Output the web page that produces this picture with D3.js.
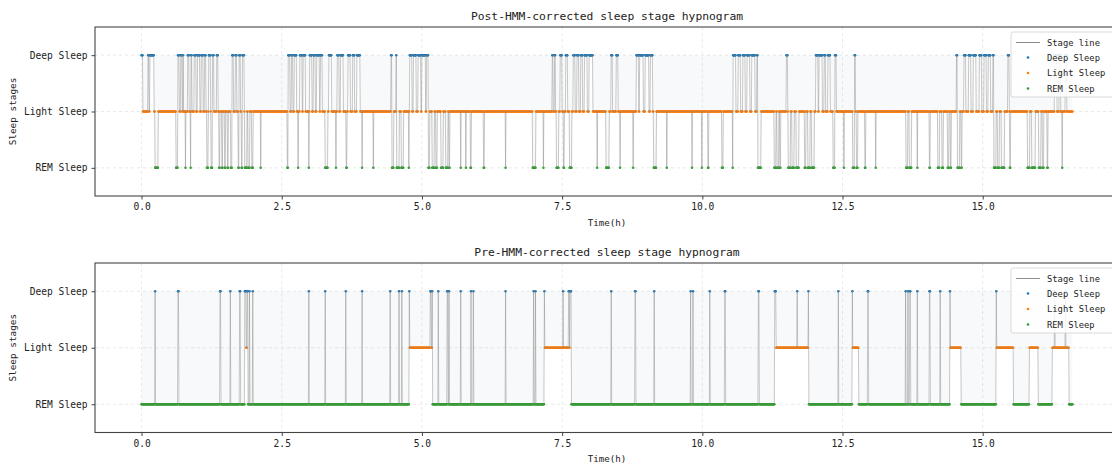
<!DOCTYPE html>
<html>
<head>
<meta charset="utf-8">
<script src="https://cdn.jsdelivr.net/npm/d3@7"></script>
<style>
  body { margin: 0; background: #fff; }
  svg { display: block; }
  text { font-family: "DejaVu Sans Mono", "Liberation Mono", monospace; fill: #222; }
</style>
</head>
<body>
<svg id="chart" width="1112" height="466"></svg>
<script>
// Stage codes: 0 = REM, 1 = Light, 2 = Deep
const stageNames = ["REM Sleep", "Light Sleep", "Deep Sleep"];
const xTicks = [0, 2.5, 5, 7.5, 10, 12.5, 15];
const epochHours = 0.5 / 60;   // 30-second scoring epochs
const recordEnd = 16.6;        // hours

// Post-HMM hypnogram as runs: start time (h) and stage of each run
const postRunStart = [
  0.00, 0.02, 0.11, 0.13, 0.15, 0.22, 0.24, 0.30, 0.61, 0.65, 0.67, 0.70, 0.72, 0.74, 0.75, 0.78, 0.79,
  0.82, 0.85, 0.87, 0.88, 0.90, 0.94, 0.97, 1.00, 1.04, 1.06, 1.10, 1.12, 1.15, 1.16, 1.19, 1.20, 1.23,
  1.24, 1.26, 1.29, 1.34, 1.36, 1.38, 1.40, 1.43, 1.45, 1.48, 1.50, 1.53, 1.55, 1.59, 1.61, 1.64, 1.67,
  1.70, 1.72, 1.74, 1.76, 1.78, 1.80, 1.83, 1.84, 1.88, 1.90, 1.93, 1.96, 1.99, 2.12, 2.13, 2.60, 2.61,
  2.65, 2.67, 2.70, 2.72, 2.76, 2.79, 2.80, 2.82, 2.86, 2.88, 2.92, 2.98, 2.99, 3.00, 3.04, 3.06, 3.10,
  3.12, 3.17, 3.19, 3.22, 3.27, 3.32, 3.34, 3.39, 3.46, 3.47, 3.49, 3.52, 3.55, 3.60, 3.65, 3.66, 3.68,
  3.72, 3.76, 3.80, 3.84, 3.90, 3.93, 3.94, 4.13, 4.14, 4.45, 4.46, 4.50, 4.54, 4.55, 4.60, 4.63, 4.67,
  4.76, 4.77, 4.78, 4.82, 4.85, 4.90, 4.93, 4.98, 5.00, 5.06, 5.08, 5.11, 5.14, 5.18, 5.22, 5.25, 5.27,
  5.34, 5.38, 5.42, 5.46, 5.48, 5.50, 5.69, 5.70, 5.78, 5.79, 5.86, 5.88, 6.10, 6.11, 6.49, 6.50, 6.97,
  7.03, 7.16, 7.17, 7.32, 7.34, 7.36, 7.38, 7.40, 7.44, 7.46, 7.50, 7.52, 7.54, 7.56, 7.60, 7.63, 7.67,
  7.70, 7.73, 7.76, 7.80, 7.83, 7.86, 7.90, 7.95, 7.98, 8.05, 8.12, 8.13, 8.28, 8.34, 8.37, 8.40, 8.46,
  8.50, 8.53, 8.54, 8.76, 8.77, 8.82, 8.86, 8.88, 8.95, 8.98, 9.05, 9.07, 9.11, 9.13, 9.18, 9.36, 9.37,
  9.81, 9.82, 9.99, 10.00, 10.10, 10.11, 10.35, 10.37, 10.54, 10.55, 10.60, 10.64, 10.68, 10.72, 10.76,
  10.80, 10.85, 10.88, 10.94, 10.97, 10.99, 11.05, 11.28, 11.31, 11.33, 11.36, 11.38, 11.40, 11.50, 11.52,
  11.53, 11.57, 11.60, 11.64, 11.67, 11.72, 11.82, 11.85, 11.88, 11.92, 11.95, 12.00, 12.02, 12.06, 12.08,
  12.14, 12.17, 12.20, 12.24, 12.28, 12.33, 12.36, 12.39, 12.52, 12.53, 12.68, 12.71, 12.73, 12.75, 12.77,
  12.90, 12.91, 13.09, 13.10, 13.63, 13.66, 13.69, 13.73, 13.83, 13.84, 14.05, 14.06, 14.20, 14.23, 14.27,
  14.30, 14.37, 14.40, 14.42, 14.44, 14.53, 14.55, 14.59, 14.61, 14.63, 14.66, 14.70, 14.75, 14.79, 14.83,
  14.88, 14.94, 14.98, 15.02, 15.06, 15.10, 15.14, 15.18, 15.20, 15.24, 15.26, 15.30, 15.33, 15.39, 15.45,
  15.47, 15.48, 15.50, 15.80, 15.84, 15.87, 15.94, 16.00, 16.04, 16.06, 16.09, 16.15, 16.16, 16.28, 16.32,
  16.36, 16.39, 16.41, 16.42, 16.47, 16.50
];
const postRunStage = [
  2, 1, 2, 1, 2, 1, 0, 1, 0, 2, 1, 2, 1, 2, 1, 0, 1,
  2, 1, 0, 2, 1, 2, 1, 2, 1, 2, 1, 2, 1, 0, 1, 2, 1,
  0, 2, 1, 2, 1, 0, 1, 0, 1, 0, 1, 0, 1, 0, 2, 1, 2,
  1, 0, 2, 1, 0, 2, 1, 0, 1, 0, 1, 0, 1, 0, 1, 0, 2,
  1, 2, 1, 2, 1, 0, 1, 2, 1, 2, 1, 0, 1, 2, 1, 2, 1,
  2, 1, 2, 1, 0, 1, 2, 1, 0, 1, 2, 1, 2, 1, 0, 1, 2,
  1, 2, 1, 2, 1, 0, 1, 0, 1, 2, 0, 1, 2, 0, 1, 0, 1,
  0, 1, 2, 1, 2, 1, 2, 1, 2, 1, 2, 0, 1, 0, 1, 0, 1,
  0, 1, 0, 1, 0, 1, 0, 1, 0, 1, 0, 1, 0, 1, 0, 1, 0,
  1, 0, 1, 2, 1, 2, 1, 0, 1, 2, 1, 0, 1, 2, 1, 0, 1,
  2, 1, 2, 1, 2, 1, 2, 1, 2, 1, 0, 1, 0, 1, 2, 1, 2,
  1, 0, 1, 0, 1, 2, 1, 2, 1, 2, 1, 2, 1, 0, 1, 0, 1,
  0, 1, 0, 1, 0, 1, 0, 1, 0, 2, 1, 2, 1, 2, 1,
  2, 1, 2, 1, 2, 0, 1, 0, 1, 0, 1, 0, 1, 2, 1,
  0, 1, 0, 1, 0, 1, 0, 1, 0, 1, 0, 1, 2, 1, 2,
  1, 2, 1, 2, 1, 0, 2, 1, 0, 1, 0, 2, 1, 0, 1,
  0, 1, 0, 1, 0, 1, 0, 1, 0, 1, 0, 1, 0, 1, 0,
  1, 0, 1, 0, 1, 2, 0, 1, 0, 1, 2, 1, 2, 1, 2,
  1, 2, 1, 2, 1, 2, 1, 2, 0, 1, 0, 1, 0, 1, 2,
  1, 0, 1, 0, 1, 0, 1, 0, 1, 0, 1, 0, 1, 2, 1,
  2, 1, 0, 1, 2, 1
];

// Pre-HMM hypnogram as runs
const preRunStart = [
  0.00, 0.24, 0.25, 0.65, 0.66, 1.40, 1.41, 1.58, 1.59, 1.75, 1.76, 1.84, 1.86, 1.88, 1.90, 1.92, 1.93,
  1.98, 1.99, 2.98, 2.99, 3.27, 3.28, 3.64, 3.65, 3.93, 3.94, 4.43, 4.44, 4.59, 4.60, 4.64, 4.65, 4.77,
  4.78, 5.15, 5.16, 5.18, 5.19, 5.29, 5.30, 5.45, 5.46, 5.48, 5.49, 5.69, 5.70, 5.87, 5.88, 5.91, 5.92,
  6.49, 6.50, 6.99, 7.00, 7.02, 7.03, 7.18, 7.19, 7.51, 7.52, 7.61, 7.63, 7.64, 7.66, 8.37, 8.38, 8.80,
  8.81, 9.14, 9.15, 9.79, 9.80, 9.83, 9.84, 10.13, 10.14, 10.40, 10.41, 11.00, 11.01, 11.29, 11.31, 11.69,
  11.70, 11.89, 11.90, 12.42, 12.43, 12.67, 12.68, 12.79, 12.95, 12.96, 13.62, 13.63, 13.66, 13.67, 13.70,
  13.71, 13.83, 13.84, 14.05, 14.06, 14.24, 14.25, 14.41, 14.42, 14.61, 15.24, 15.25, 15.55, 15.83, 15.99,
  16.24, 16.28, 16.29, 16.47, 16.48, 16.54
];
const preRunStage = [
  0, 2, 0, 2, 0, 2, 0, 2, 0, 2, 0, 2, 1, 2, 0, 2, 0,
  2, 0, 2, 0, 2, 0, 2, 0, 2, 0, 2, 0, 2, 0, 2, 0, 2,
  1, 2, 1, 2, 0, 2, 0, 2, 0, 2, 0, 2, 0, 2, 0, 2, 0,
  2, 0, 2, 0, 2, 0, 2, 1, 2, 1, 2, 1, 2, 0, 2, 0, 2,
  0, 2, 0, 2, 0, 2, 0, 2, 0, 2, 0, 2, 0, 2, 1, 2,
  1, 2, 0, 2, 0, 2, 1, 0, 2, 0, 2, 0, 2, 0, 2,
  0, 2, 0, 2, 0, 2, 0, 2, 1, 0, 2, 1, 0, 1, 0,
  1, 2, 1, 2, 1, 0
];

const panels = [
  { title: "Post-HMM-corrected sleep stage hypnogram", runStart: postRunStart, runStage: postRunStage, top: 27, bottom: 196 },
  { title: "Pre-HMM-corrected sleep stage hypnogram", runStart: preRunStart, runStage: preRunStage, top: 263, bottom: 432.5 }
];

const stageColor = ["#2ca02c", "#ff7f0e", "#1f77b4"];
const legendItems = ["Deep Sleep", "Light Sleep", "REM Sleep"];
const legendStage = [2, 1, 0];

// Expand runs into one sample per scoring epoch
function toEpochs(runStart, runStage) {
  const n = Math.round(recordEnd / epochHours);
  const out = [];
  let k = 0;
  for (let i = 0; i <= n; i++) {
    const t = i * epochHours;
    while (k + 1 < runStart.length && runStart[k + 1] <= t + 1e-9) k++;
    out.push({ t, s: runStage[k] });
  }
  return out;
}

const svg = d3.select("#chart");
const left = 95, right = 1119;
const x = d3.scaleLinear().domain([-0.83, 17.43]).range([left, right]);

panels.forEach(p => {
  const data = toEpochs(p.runStart, p.runStage);
  const y = d3.scaleLinear().domain([-0.5, 2.5]).range([p.bottom, p.top]);
  const g = svg.append("g");

  // grid
  g.selectAll(".vgrid").data(xTicks).join("line")
    .attr("x1", d => x(d)).attr("x2", d => x(d))
    .attr("y1", p.top).attr("y2", p.bottom)
    .attr("stroke", "#e0e0e0").attr("stroke-width", 0.7).attr("stroke-dasharray", "3,3");
  g.selectAll(".hgrid").data([0, 1, 2]).join("line")
    .attr("x1", left).attr("x2", right)
    .attr("y1", d => y(d)).attr("y2", d => y(d))
    .attr("stroke", "#e0e0e0").attr("stroke-width", 0.7).attr("stroke-dasharray", "3,3");

  // shaded area between the trace and the Deep level
  g.append("path").datum(data)
    .attr("d", d3.area().x(d => x(d.t)).y0(y(2)).y1(d => y(d.s)))
    .attr("fill", "#6f8aa3").attr("fill-opacity", 0.05);

  // stage markers
  [2, 1, 0].forEach(s => {
    g.append("g").selectAll("circle").data(data.filter(d => d.s === s)).join("circle")
      .attr("cx", d => x(d.t)).attr("cy", d => y(d.s)).attr("r", 1.25)
      .attr("fill", stageColor[s]);
  });

  // stage line
  g.append("path").datum(data)
    .attr("d", d3.line().x(d => x(d.t)).y(d => y(d.s)))
    .attr("fill", "none").attr("stroke", "#808080").attr("stroke-opacity", 0.55).attr("stroke-width", 0.8);

  // frame
  g.append("rect").attr("x", left).attr("y", p.top).attr("width", right - left).attr("height", p.bottom - p.top)
    .attr("fill", "none").attr("stroke", "#444").attr("stroke-width", 1.1);

  // axes
  const xAxis = g.append("g").attr("transform", `translate(0,${p.bottom})`)
    .call(d3.axisBottom(x).tickValues(xTicks).tickFormat(d3.format(".1f")).tickSize(3.5).tickPadding(4));
  xAxis.select(".domain").remove();
  xAxis.selectAll("line").attr("stroke", "#444");
  xAxis.selectAll("text").attr("font-size", 9.6).attr("font-family", "DejaVu Sans Mono").attr("fill", "#222");

  const yAxis = g.append("g").attr("transform", `translate(${left},0)`)
    .call(d3.axisLeft(y).tickValues([0, 1, 2]).tickFormat(d => stageNames[d]).tickSize(3.5).tickPadding(4));
  yAxis.select(".domain").remove();
  yAxis.selectAll("line").attr("stroke", "#444");
  yAxis.selectAll("text").attr("font-size", 9.6).attr("font-family", "DejaVu Sans Mono").attr("fill", "#222");

  // labels
  g.append("text").attr("x", 607).attr("y", p.top - 7).attr("text-anchor", "middle")
    .attr("font-size", 11.3).text(p.title);
  g.append("text").attr("x", 607).attr("y", p.bottom + 29.5).attr("text-anchor", "middle")
    .attr("font-size", 9.2).text("Time(h)");
  g.append("text").attr("transform", `translate(16,${(p.top + p.bottom) / 2}) rotate(-90)`)
    .attr("text-anchor", "middle").attr("font-size", 9.4).text("Sleep stages");

  // legend
  const lg = g.append("g").attr("transform", `translate(1011,${p.top + 5})`);
  lg.append("rect").attr("x", 0).attr("y", 0).attr("width", 120).attr("height", 65).attr("rx", 2)
    .attr("fill", "#fff").attr("fill-opacity", 0.85).attr("stroke", "#d0d0d0").attr("stroke-width", 0.8);
  lg.append("line").attr("x1", 5).attr("x2", 29).attr("y1", 10.5).attr("y2", 10.5)
    .attr("stroke", "#808080").attr("stroke-width", 0.9);
  lg.append("text").attr("x", 36).attr("y", 13.5).attr("font-size", 8.8).text("Stage line");
  legendItems.forEach((name, i) => {
    const yy = 25.5 + i * 15.5;
    lg.append("circle").attr("cx", 17).attr("cy", yy).attr("r", 1.3).attr("fill", stageColor[legendStage[i]]);
    lg.append("text").attr("x", 36).attr("y", yy + 3).attr("font-size", 8.8).text(name);
  });
});
</script>
</body>
</html>
